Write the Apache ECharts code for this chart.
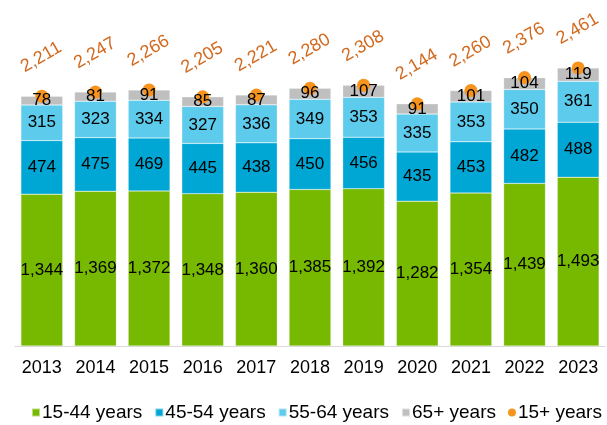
<!DOCTYPE html>
<html>
<head>
<meta charset="utf-8">
<script src="https://cdn.jsdelivr.net/npm/echarts@6/dist/echarts.min.js"></script>
<style>
  html, body { margin: 0; padding: 0; background: #fff; }
  #chart { width: 607px; height: 425px; }
</style>
</head>
<body>
<div id="chart"></div>
<script>
var years = ['2013', '2014', '2015', '2016', '2017', '2018', '2019', '2020', '2021', '2022', '2023'];
var age15to44 = [1344, 1369, 1372, 1348, 1360, 1385, 1392, 1282, 1354, 1439, 1493];
var age45to54 = [474, 475, 469, 445, 438, 450, 456, 435, 453, 482, 488];
var age55to64 = [315, 323, 334, 327, 336, 349, 353, 335, 353, 350, 361];
var age65plus = [78, 81, 91, 85, 87, 96, 107, 91, 101, 104, 119];
var total15plus = [2211, 2247, 2266, 2205, 2221, 2280, 2308, 2144, 2260, 2376, 2461];

var FONT = 'Liberation Sans, Arial, sans-serif';

var chart = echarts.init(document.getElementById('chart'));

function fmt(p) {
  return p.value.toLocaleString('en-US');
}

// coloured segments, no labels (drawn under the orange dots)
function barSeries(name, data, color) {
  return {
    name: name,
    type: 'bar',
    stack: 'total',
    data: data,
    barCategoryGap: '22%',
    barGap: '-100%',
    z: 2,
    itemStyle: { color: color, borderColor: 'rgba(255,255,255,0.5)', borderWidth: 0.5 },
    emphasis: { disabled: true }
  };
}

// transparent copy of the same stack, only carries the value labels above the dots
function labelSeries(name, data) {
  return {
    name: name + ' label',
    type: 'bar',
    stack: 'labels',
    data: data,
    barCategoryGap: '22%',
    barGap: '-100%',
    z: 4,
    silent: true,
    itemStyle: { color: 'rgba(0,0,0,0)' },
    label: {
      show: true,
      position: 'inside',
      color: '#000',
      fontSize: 17,
      fontFamily: FONT,
      formatter: fmt
    },
    emphasis: { disabled: true }
  };
}

var option = {
  animation: false,
  grid: { left: 15, right: 2, top: 7, bottom: 79 },
  legend: {
    bottom: 3,
    left: 31,
    width: 576,
    padding: 0,
    itemWidth: 8,
    itemHeight: 8,
    itemGap: 12,
    textStyle: { fontSize: 19, fontFamily: FONT, color: '#000', padding: [0, 0, 0, -3] },
    data: [
      { name: '15-44 years', icon: 'rect' },
      { name: '45-54 years', icon: 'rect' },
      { name: '55-64 years', icon: 'rect' },
      { name: '65+ years', icon: 'rect' },
      { name: '15+ years', icon: 'circle' }
    ]
  },
  xAxis: {
    type: 'category',
    data: years,
    axisLine: { lineStyle: { color: '#D9D9D9', width: 1 } },
    axisTick: { show: false },
    axisLabel: { color: '#000', fontSize: 18, fontFamily: FONT, margin: 13 }
  },
  yAxis: {
    type: 'value',
    min: 0,
    max: 3000,
    show: false,
    splitLine: { show: false }
  },
  series: [
    barSeries('15-44 years', age15to44, '#76B900'),
    barSeries('45-54 years', age45to54, '#00A6D4'),
    barSeries('55-64 years', age55to64, '#5DCBEB'),
    barSeries('65+ years', age65plus, '#BFBFBF'),
    labelSeries('15-44 years', age15to44),
    labelSeries('45-54 years', age45to54),
    labelSeries('55-64 years', age55to64),
    labelSeries('65+ years', age65plus),
    {
      name: '15+ years',
      type: 'line',
      data: total15plus,
      symbol: 'circle',
      symbolSize: 13,
      itemStyle: { color: '#F7941D' },
      lineStyle: { opacity: 0 },
      z: 3,
      label: {
        show: true,
        position: 'inside',
        // offset is applied in the rotated frame: this moves the text ~39px straight up
        offset: [19, -34],
        rotate: 30,
        color: '#D2691E',
        fontSize: 18,
        fontFamily: FONT,
        formatter: fmt
      },
      emphasis: { disabled: true }
    }
  ]
};

chart.setOption(option);
</script>
</body>
</html>
